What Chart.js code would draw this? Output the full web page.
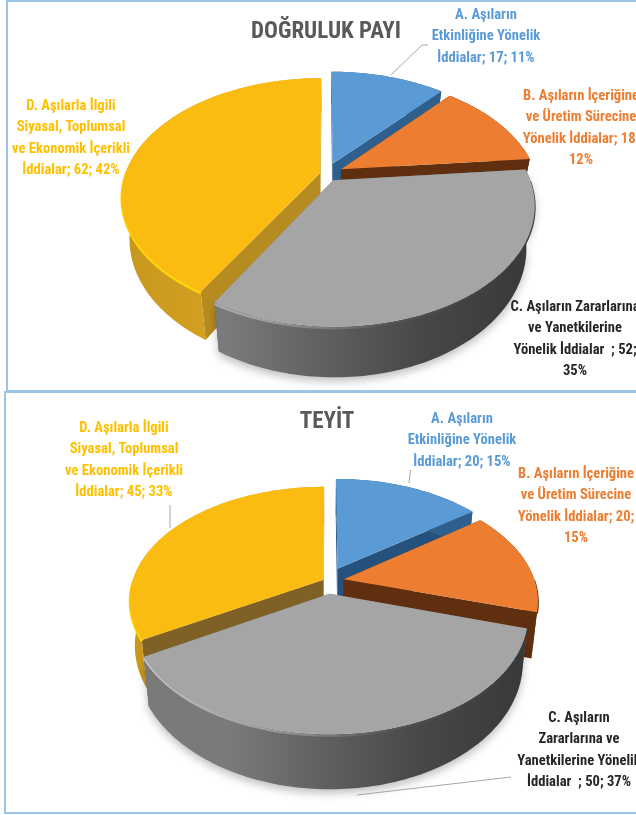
<!DOCTYPE html>
<html><head><meta charset="utf-8">
<script src="https://cdn.jsdelivr.net/npm/chart.js@4"></script>
<style>
html,body{margin:0;padding:0;background:#fff;width:636px;height:815px;overflow:hidden}
.frame{position:absolute;box-sizing:border-box;border:2px solid #9DC3E6;border-right:none;overflow:hidden}
#f1{left:6px;top:0;width:640px;height:392px}
#f2{left:4px;top:391px;width:640px;height:423px}
canvas{position:absolute;filter:blur(0.45px)}
</style></head><body>
<div class="frame" id="f1"></div><div class="frame" id="f2"></div>
<canvas id="c1" width="636" height="390" style="left:0;top:0"></canvas>
<canvas id="c2" width="636" height="425" style="left:0;top:390px"></canvas>
<script>
const categories = ['A. Aşıların Etkinliğine Yönelik İddialar','B. Aşıların İçeriğine ve Üretim Sürecine Yönelik İddialar','C. Aşıların Zararlarına ve Yanetkilerine Yönelik İddialar','D. Aşılarla İlgili Siyasal, Toplumsal ve Ekonomik İçerikli İddialar'];
const valuesDogruluk = [17, 18, 52, 62];
const valuesTeyit = [20, 20, 50, 45];
const titleDogruluk = 'DOĞRULUK PAYI';
const titleTeyit = 'TEYİT';
const labelsDogruluk = [
  ['A. Aşıların','Etkinliğine Yönelik','İddialar; 17; 11%'],
  ['B. Aşıların İçeriğine','ve Üretim Sürecine','Yönelik İddialar; 18;','12%'],
  ['C. Aşıların Zararlarına','ve Yanetkilerine','Yönelik İddialar  ; 52;','35%'],
  ['D. Aşılarla İlgili','Siyasal, Toplumsal','ve Ekonomik İçerikli','İddialar; 62; 42%']
];
const labelsTeyit = [
  ['A. Aşıların','Etkinliğine Yönelik','İddialar; 20; 15%'],
  ['B. Aşıların İçeriğine','ve Üretim Sürecine','Yönelik İddialar; 20;','15%'],
  ['C. Aşıların','Zararlarına ve','Yanetkilerine Yönelik','İddialar  ; 50; 37%'],
  ['D. Aşılarla İlgili','Siyasal, Toplumsal','ve Ekonomik İçerikli','İddialar; 45; 33%']
];
const topColors = ['#5B9BD5','#ED7D31','#A5A5A5','#FBBC12'];
const labelColors = ['#5B9BD5','#ED7D31','#262626','#FFC000'];
const FONT = '"Liberation Sans Narrow","Roboto Condensed",sans-serif';

function pieChart(id, title, values, labels, cfg){
  const plugin = {
    id:'pie3d',
    beforeDatasetDraw(chart){
      const ctx = chart.ctx, arcs = chart.getDatasetMeta(0).data;
      const pt = (el,a,r,d)=>{
        const mid=(el.startAngle+el.endAngle)/2, off=el.options.offset||0, R=el.outerRadius;
        const u=(r*Math.cos(a)+off*Math.cos(mid))/R, v=(r*Math.sin(a)+off*Math.sin(mid))/R;
        const s=1/(1-cfg.perspective*v);
        return [el.x+R*u*s*(1-d*cfg.shrink), el.y+R*cfg.squash*v*s+d*s];
      };
      const rim=(el,d,a0=el.startAngle,a1=el.endAngle)=>{
        const out=[], n=Math.max(2,Math.ceil((a1-a0)/0.02));
        for(let i=0;i<=n;i++) out.push(pt(el,a0+(a1-a0)*i/n,el.outerRadius,d));
        return out;
      };
      const poly=(pts,fill)=>{
        ctx.beginPath(); pts.forEach((p,i)=>i?ctx.lineTo(p[0],p[1]):ctx.moveTo(p[0],p[1]));
        ctx.closePath(); ctx.fillStyle=fill; ctx.fill();
      };
      const hGrad=(el,stops)=>{
        const g=ctx.createLinearGradient(el.x-el.outerRadius,0,el.x+el.outerRadius,0);
        stops.forEach((c,k,a)=>g.addColorStop(k/(a.length-1),c));
        return g;
      };
      [0,1,3,2].forEach(i=>{
        const el=arcs[i], D=cfg.depth;
        const c0=pt(el,0,0,0), c1=pt(el,0,0,D);
        [el.startAngle,el.endAngle].forEach(a=>{
          poly([c0,pt(el,a,el.outerRadius,0),pt(el,a,el.outerRadius,D),c1],cfg.cut[i]);
        });
        const top=rim(el,0), bot=rim(el,D);
        if(i===2){ctx.save();ctx.shadowColor='rgba(0,0,0,.25)';ctx.shadowBlur=9;ctx.shadowOffsetY=4;}
        poly(top.concat(bot.slice().reverse()),hGrad(el,cfg.wall[i]));
        if(i===2)ctx.restore();
        const a0=Math.max(el.startAngle,0), a1=Math.min(el.endAngle,Math.PI);
        if(a1>a0){
          ctx.beginPath();
          rim(el,1.2,a0,a1).forEach((p,n)=>n?ctx.lineTo(p[0],p[1]):ctx.moveTo(p[0],p[1]));
          ctx.strokeStyle=hGrad(el,cfg.lip[i]); ctx.lineWidth=2.2; ctx.stroke();
        }
        poly([c0].concat(top),el.options.backgroundColor);
      });
      return false;
    },
    afterDraw(chart){
      const ctx=chart.ctx;
      ctx.save();
      ctx.strokeStyle='#A6A6A6'; ctx.lineWidth=1;
      cfg.leaders.forEach(l=>{
        ctx.beginPath(); l.forEach((p,i)=>i?ctx.lineTo(p[0],p[1]):ctx.moveTo(p[0],p[1])); ctx.stroke();
      });
      ctx.textAlign='center'; ctx.textBaseline='middle';
      ctx.font='bold '+cfg.fontSize+'px '+FONT;
      labels.forEach((lines,i)=>{
        ctx.fillStyle=labelColors[i];
        lines.forEach((t,k)=>ctx.fillText(t,cfg.labelPos[i][0],cfg.labelPos[i][1]+k*21.6));
      });
      ctx.restore();
    }
  };
  return new Chart(document.getElementById(id),{
    type:'pie',
    data:{labels:categories,datasets:[{data:values,backgroundColor:topColors,borderWidth:0,offset:cfg.offset,radius:cfg.radius}]},
    options:{
      responsive:false,animation:false,
      layout:{padding:{left:cfg.padLeft,top:0,right:0,bottom:cfg.padBottom}},
      plugins:{legend:{display:false},tooltip:{enabled:false},
        title:{display:true,text:title,color:'#595959',font:{family:FONT,size:23,weight:'bold',lineHeight:1.25},padding:{top:18,bottom:0}}}
    },
    plugins:[plugin]
  });
}
const grayWall=['#7a7a7a','#7a7a7a','#5f5f5f','#474747','#3a3a3a'];
const goldWall=['#C8981E','#DBA522','#C08F1C','#B68B20'];
pieChart('c1',titleDogruluk,valuesDogruluk,labelsDogruluk,{
  radius:195,squash:0.585,perspective:0.2,shrink:0.001,depth:40,padLeft:16,padBottom:89,fontSize:14.6,
  offset:[19,17,13,6],
  cut:['#2F5F8C','#5F2F10','#6e6e6e','#B68B20'],
  wall:[['#2F5F8C','#2F5F8C'],['#5F2F10','#5F2F10'],grayWall,goldWall],
  lip:[['#2F5F8C','#2F5F8C'],['#5F2F10','#5F2F10'],['#C4C4C4','#A0A0A0','#555555','#3a3a3a'],['#FFD800','#FFD800','#E0A820','#C08F1C']],
  labelPos:[[486,15],[581,96],[575,307],[71,106]],
  leaders:[[[428,45],[422,45],[391,75]]]
});
pieChart('c2',titleTeyit,valuesTeyit,labelsTeyit,{
  radius:191,squash:0.576,perspective:0.18,shrink:0.0006,depth:44,padLeft:18,padBottom:90,fontSize:14.6,
  offset:[24,17,22,4],
  cut:['#25527C','#5F2F10','#6e6e6e','#7F6125'],
  wall:[['#2F5F8C','#2F5F8C'],['#5F2F10','#5F2F10'],grayWall,goldWall],
  lip:[['#2F5F8C','#2F5F8C'],['#5F2F10','#5F2F10'],['#C4C4C4','#A0A0A0','#555555','#3a3a3a'],['#FFD800','#FFD800','#E0A820','#C08F1C']],
  labelPos:[[462,29],[576,84],[579,328],[124,38]],
  leaders:[[[410.5,80],[409,93]],[[170,115],[170,138]],[[511,387],[357,405]]]
});
</script>
</body></html>
